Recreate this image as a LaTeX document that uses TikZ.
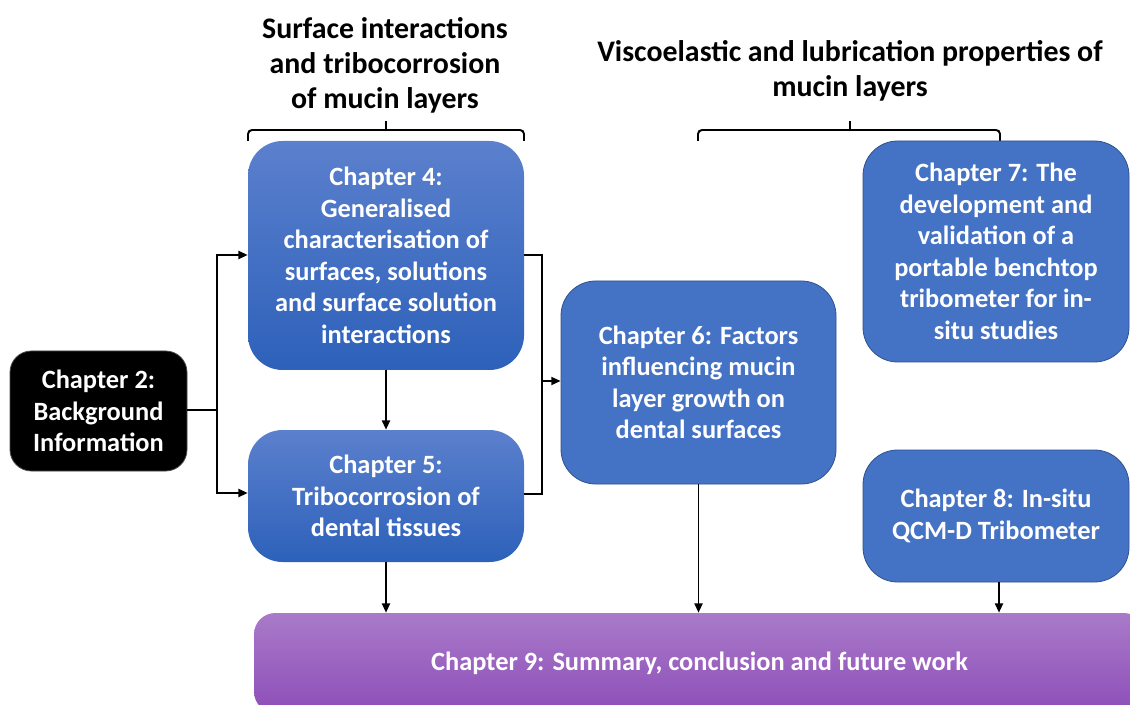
\documentclass[tikz,border=0pt]{standalone}
\usepackage{fontspec}
\setmainfont{Carlito}
\usetikzlibrary{arrows.meta,calc}
\definecolor{blueA}{HTML}{4472C4}
\definecolor{blueTop}{HTML}{5B80CD}
\definecolor{blueBot}{HTML}{2D61BA}
\definecolor{blueEdge}{HTML}{2F528F}
\definecolor{purTop}{HTML}{A97AC9}
\definecolor{purBot}{HTML}{8D4EB8}
\tikzset{
  chap/.style={rounded corners=26pt, text=white, align=center,
    font=\fontsize{19.8pt}{23.6pt}\selectfont\bfseries, inner sep=0pt},
  gradbox/.style={chap, top color=blueTop, bottom color=blueBot},
  flatbox/.style={chap, fill=blueA, draw=blueEdge, line width=0.6pt},
  conn/.style={line width=1.45pt, -{Triangle[length=7pt,width=6pt]}},
  plain/.style={line width=1.45pt},
  brace/.style={line width=1.45pt, rounded corners=3pt},
  ttl/.style={align=center, font=\fontsize{22.4pt}{26.3pt}\selectfont\bfseries}
}
\begin{document}
\begin{tikzpicture}[x=0.75pt,y=-0.75pt]
\clip (0,0) rectangle (1130,705);
\fill[white] (0,0) rectangle (1130,705);

% titles
\node[ttl] (t1) at (385,65) {Surface interactions\\and tribocorrosion\\of mucin layers};
\node[ttl] (t2) at (850,71) {Viscoelastic and lubrication properties of\\mucin layers};

% braces
\coordinate (b1top) at (386,121);
\draw[brace] (248,141) -- (248,130) -- (524,130) -- (524,141);
\draw[plain] (386,130) -- (b1top);
\coordinate (b2top) at (850,121);
\draw[brace] (698,141) -- (698,130) -- (1000,130) -- (1000,141);
\draw[plain] (850,130) -- (b2top);

% boxes
\node[chap, rounded corners=16pt, fill=black, draw=black!70, line width=0.6pt,
      minimum width=132.75pt, minimum height=90pt] (c2) at (98.5,411)
  {Chapter 2:\\Background\\Information};
\node[gradbox, minimum width=207pt, minimum height=171.75pt] (c4) at (386,255.5)
  {Chapter 4:\\Generalised\\characterisation of\\surfaces, solutions\\and surface solution\\interactions};
\node[gradbox, minimum width=207pt, minimum height=99pt] (c5) at (386,496)
  {Chapter 5:\\Tribocorrosion of\\dental tissues};
\node[flatbox, minimum width=206.25pt, minimum height=152.25pt] (c6) at (698.5,382.5)
  {Chapter 6: Factors\\influencing mucin\\layer growth on\\dental surfaces};
\node[flatbox, minimum width=199.5pt, minimum height=165.75pt] (c7) at (996,251.5)
  {Chapter 7: The\\development and\\validation of a\\portable benchtop\\tribometer for in-\\situ studies};
\node[flatbox, minimum width=199.5pt, minimum height=99pt] (c8) at (996,516)
  {Chapter 8: In-situ\\QCM-D Tribometer};
\node[chap, rounded corners=16pt, top color=purTop, bottom color=purBot, minimum width=668.25pt,
      minimum height=75pt] (c9) at (699.5,663)
  {Chapter 9: Summary, conclusion and future work};

% connectors
\coordinate (j1) at (217,410);
\draw[plain] (c2.east |- j1) -- (j1);
\draw[conn] (j1) |- (c4.west |- 0,255);
\draw[conn] (j1) |- (c5.west |- 0,493);
\draw[conn] (c4.south) -- (c5.north);
\coordinate (j2) at (542,381);
\draw[plain] (c4.east |- 0,255) -| (j2);
\draw[plain] (c5.east |- 0,494) -| (j2);
\draw[conn] (j2) -- (c6.west |- j2);
\draw[conn] (c5.south) -- (c5.south |- c9.north);
\draw[conn] (c6.south) -- (c6.south |- c9.north);
\draw[conn] (c8.south -| 999,0) -- (999,0 |- c9.north);
\end{tikzpicture}
\end{document}
